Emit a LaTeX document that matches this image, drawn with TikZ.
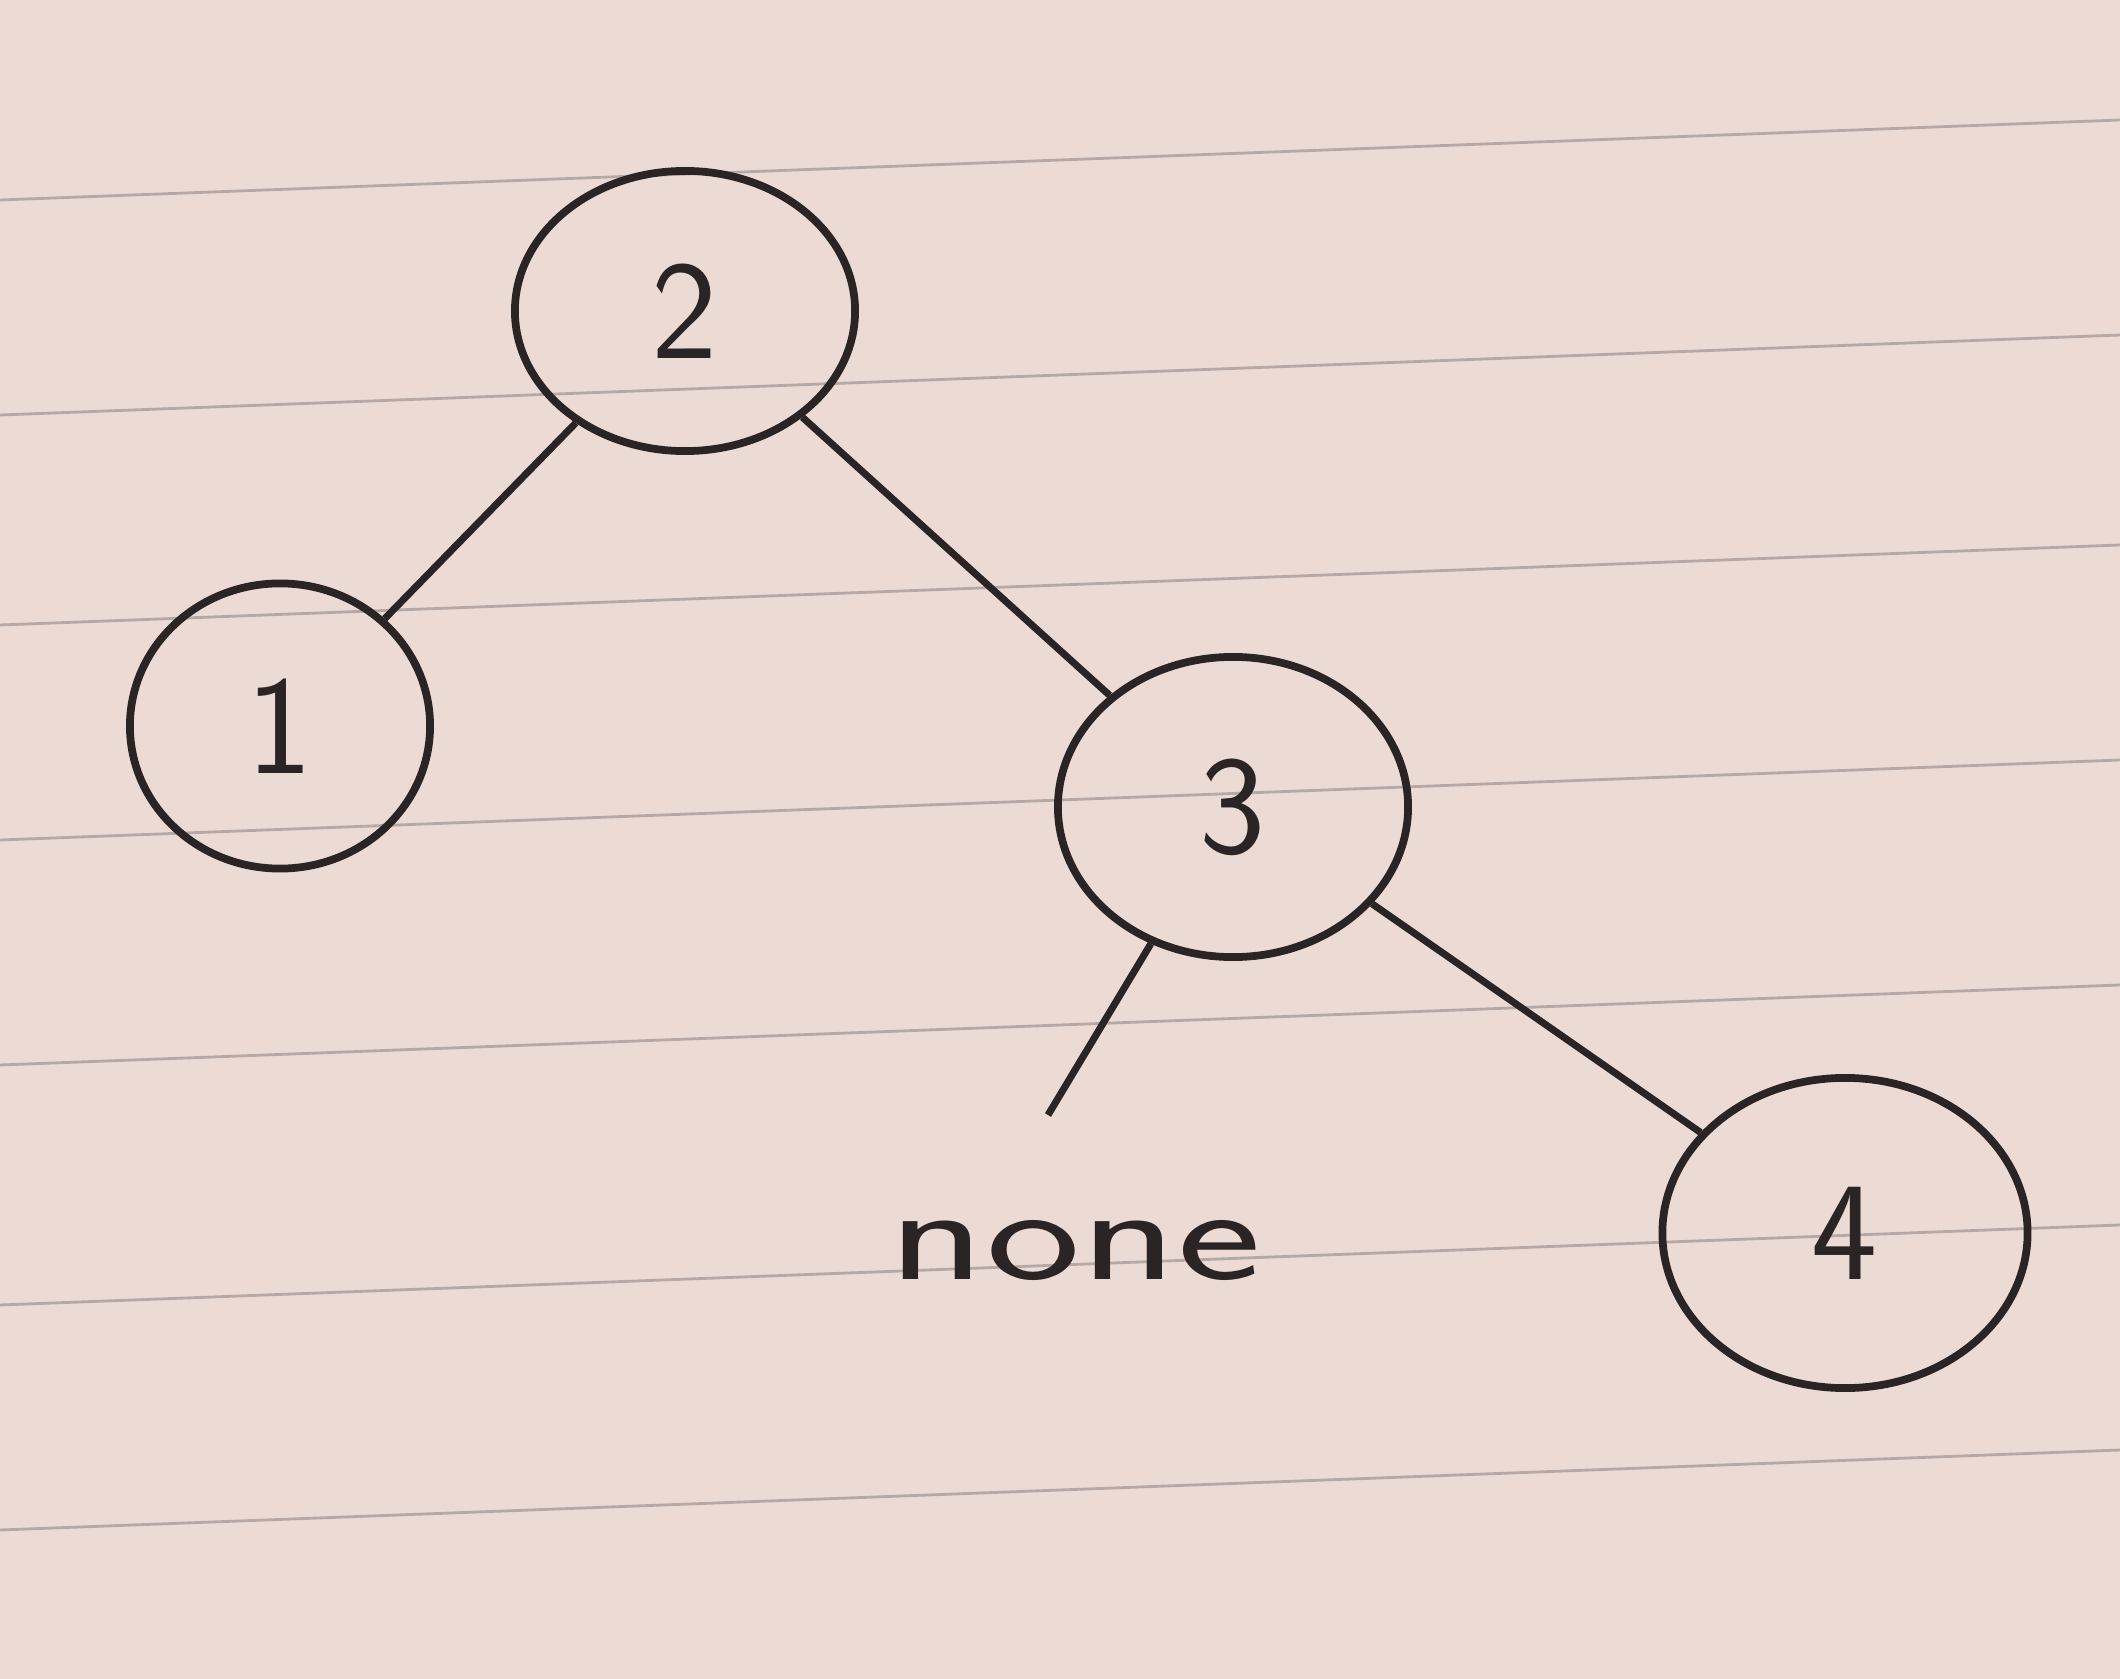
\documentclass[tikz,border=0pt]{standalone}
\usetikzlibrary{shapes.geometric}
\definecolor{paper}{HTML}{EBDBD4}
\definecolor{rule}{HTML}{B5A9A8}
\definecolor{ink}{HTML}{2A2424}
\begin{document}
\begin{tikzpicture}[x=0.01cm,y=-0.01cm,
  tnode/.style={draw=ink, line width=2.2pt, ellipse, inner sep=0pt, text=ink,
    font=\sffamily\fontsize{40}{40}\selectfont},
  edge/.style={draw=ink, line width=2pt}]
\fill[paper] (0,0) rectangle (2120,1679);
\useasboundingbox (0,0) rectangle (2120,1679);
\foreach \y in {200,415,625,840,1065,1305,1530}
  \draw[rule, line width=0.8pt] (0,\y) -- (2120,\y-80);
\node[tnode, minimum width=3.4cm, minimum height=2.8cm] (n2) at (685,311) {2};
\node[tnode, minimum width=3.0cm, minimum height=2.85cm] (n1) at (280,726) {1};
\node[tnode, minimum width=3.5cm, minimum height=3.0cm] (n3) at (1233,807) {3};
\node[tnode, minimum width=3.65cm, minimum height=3.1cm] (n4) at (1845,1233) {4};
\node[text=ink, font=\sffamily\fontsize{38}{38}\selectfont, xscale=1.5] (none) at (1075,1250) {none};
\coordinate (nt) at (1048,1115);
\draw[edge] (n2) -- (n1);
\draw[edge] (n2) -- (n3);
\draw[edge] (n3) -- (n4);
\draw[edge] (n3) -- (nt);
\end{tikzpicture}
\end{document}
